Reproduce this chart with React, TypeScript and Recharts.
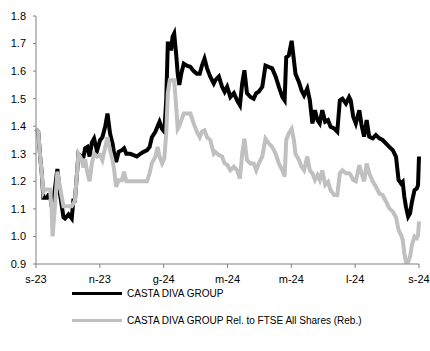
import { LineChart, Line, XAxis, YAxis } from "recharts";

// months since 1 Sep 2023
const months = [
  0, 0.07, 0.13, 0.18, 0.23, 0.28, 0.34, 0.39, 0.44, 0.49,
  0.52, 0.6, 0.67, 0.75, 0.86, 0.91, 1.02, 1.12, 1.17, 1.22,
  1.33, 1.38, 1.43, 1.49, 1.54, 1.61, 1.68, 1.75, 1.82, 1.91,
  2.01, 2.08, 2.17, 2.24, 2.32, 2.4, 2.45, 2.51, 2.59, 2.69,
  2.76, 2.83, 2.95, 3.06, 3.16, 3.27, 3.37, 3.48, 3.56, 3.63,
  3.74, 3.81, 3.87, 3.95, 4.02, 4.08, 4.13, 4.19, 4.23, 4.28,
  4.33, 4.4, 4.44, 4.49, 4.55, 4.63, 4.73, 4.84, 4.94, 5.04,
  5.13, 5.2, 5.28, 5.36, 5.46, 5.57, 5.62, 5.73, 5.83, 5.91,
  5.99, 6.09, 6.2, 6.3, 6.39, 6.46, 6.53, 6.61, 6.72, 6.82,
  6.9, 6.98, 7.09, 7.19, 7.3, 7.4, 7.51, 7.61, 7.72, 7.79,
  7.84, 7.92, 8.01, 8.08, 8.13, 8.24, 8.32, 8.4, 8.5, 8.58,
  8.66, 8.74, 8.82, 8.89, 8.97, 9.06, 9.15, 9.23, 9.34, 9.44,
  9.52, 9.6, 9.71, 9.81, 9.86, 9.94, 10.02, 10.13, 10.2, 10.28,
  10.36, 10.44, 10.55, 10.65, 10.76, 10.86, 10.97, 11.07, 11.18, 11.28,
  11.36, 11.44, 11.49, 11.54, 11.59, 11.66, 11.72, 11.78, 11.86, 11.93,
  11.97, 12.0,
];

const castaDiva = [
  1.39, 1.38, 1.29, 1.23, 1.14, 1.14, 1.14, 1.15, 1.15, 1.11,
  1.10, 1.18, 1.245, 1.156, 1.07, 1.065, 1.08, 1.065, 1.13, 1.13,
  1.30, 1.295, 1.29, 1.29, 1.32, 1.325, 1.29, 1.34, 1.355, 1.31,
  1.35, 1.36, 1.40, 1.446, 1.374, 1.337, 1.30, 1.27, 1.307, 1.313,
  1.32, 1.30, 1.30, 1.295, 1.29, 1.30, 1.307, 1.313, 1.325, 1.36,
  1.38, 1.40, 1.416, 1.39, 1.38, 1.494, 1.70, 1.70, 1.675, 1.724,
  1.736, 1.65, 1.59, 1.55, 1.59, 1.627, 1.62, 1.615, 1.60, 1.59,
  1.59, 1.62, 1.645, 1.61, 1.58, 1.555, 1.567, 1.58, 1.543, 1.525,
  1.543, 1.506, 1.52, 1.494, 1.476, 1.555, 1.603, 1.52, 1.506, 1.50,
  1.52, 1.525, 1.543, 1.62, 1.615, 1.61, 1.58, 1.543, 1.506, 1.494,
  1.65, 1.657, 1.71, 1.64, 1.59, 1.56, 1.53, 1.512, 1.537, 1.494,
  1.41, 1.458, 1.422, 1.41, 1.458, 1.416, 1.422, 1.398, 1.392, 1.38,
  1.494, 1.50, 1.482, 1.506, 1.494, 1.434, 1.41, 1.458, 1.404, 1.362,
  1.422, 1.362, 1.356, 1.368, 1.356, 1.35, 1.337, 1.325, 1.313, 1.289,
  1.205, 1.192, 1.198, 1.144, 1.108, 1.072, 1.084, 1.126, 1.168, 1.174,
  1.186, 1.29,
];

const relFtse = [
  1.39, 1.38, 1.29, 1.23, 1.16, 1.17, 1.17, 1.17, 1.17, 1.10,
  1.00, 1.12, 1.235, 1.18, 1.11, 1.11, 1.11, 1.11, 1.12, 1.13,
  1.30, 1.29, 1.277, 1.25, 1.28, 1.23, 1.20, 1.265, 1.30, 1.29,
  1.295, 1.277, 1.325, 1.36, 1.313, 1.277, 1.24, 1.18, 1.204, 1.204,
  1.235, 1.20, 1.20, 1.20, 1.20, 1.20, 1.20, 1.20, 1.23, 1.265,
  1.29, 1.325, 1.29, 1.265, 1.283, 1.374, 1.52, 1.567, 1.567, 1.567,
  1.567, 1.458, 1.39, 1.40, 1.42, 1.446, 1.446, 1.446, 1.41, 1.38,
  1.36, 1.38, 1.385, 1.36, 1.35, 1.30, 1.307, 1.295, 1.29, 1.265,
  1.26, 1.24, 1.253, 1.24, 1.21, 1.30, 1.355, 1.277, 1.265, 1.265,
  1.24, 1.265, 1.29, 1.355, 1.337, 1.325, 1.30, 1.265, 1.24, 1.217,
  1.35, 1.374, 1.39, 1.35, 1.30, 1.277, 1.253, 1.24, 1.29, 1.24,
  1.229, 1.205, 1.223, 1.205, 1.24, 1.187, 1.198, 1.168, 1.15, 1.15,
  1.229, 1.24, 1.229, 1.229, 1.223, 1.205, 1.20, 1.259, 1.229, 1.20,
  1.265, 1.229, 1.20, 1.18, 1.156, 1.15, 1.126, 1.102, 1.09, 1.07,
  1.023, 1.005, 0.987, 0.939, 0.908, 0.908, 0.927, 0.969, 1.0, 0.994,
  1.005, 1.055,
];

const tickMonths = [0, 2, 4, 6, 8, 10, 12];
const tickLabels = ["s-23", "n-23", "g-24", "m-24", "m-24", "l-24", "s-24"];
const yTicks = [0.9, 1.0, 1.1, 1.2, 1.3, 1.4, 1.5, 1.6, 1.7, 1.8];

const SERIES_BLACK = "CASTA DIVA GROUP";
const SERIES_GREY = "CASTA DIVA GROUP Rel. to FTSE All Shares (Reb.)";

const data = months.map((m, i) => ({
  t: m,
  black: castaDiva[i],
  grey: relFtse[i],
}));

const FONT = "'Liberation Sans', Arial, sans-serif";
const AXIS = "#808080";

export default function App() {
  return (
    <div
      style={{
        position: "absolute",
        left: 0,
        top: 0,
        width: 430,
        height: 351,
        background: "#fff",
        fontFamily: FONT,
      }}
    >
      <LineChart
        width={430}
        height={351}
        data={data}
        margin={{ top: 16, right: 11, left: 0, bottom: 57 }}
      >
        <XAxis
          type="number"
          dataKey="t"
          domain={[0, 12]}
          ticks={tickMonths}
          tickFormatter={(v: number) => tickLabels[tickMonths.indexOf(v)] ?? ""}
          stroke={AXIS}
          tickSize={4}
          tickMargin={7}
          height={30}
          interval={0}
          tick={{ fontSize: 11, fill: "#000", fontFamily: FONT }}
        />
        <YAxis
          type="number"
          domain={[0.9, 1.8]}
          ticks={yTicks}
          tickFormatter={(v: number) => v.toFixed(1)}
          stroke={AXIS}
          tickSize={3}
          tickMargin={7}
          width={36}
          interval={0}
          tick={{ fontSize: 11, fill: "#000", fontFamily: FONT }}
        />
        <Line
          type="linear"
          dataKey="black"
          name={SERIES_BLACK}
          stroke="#000"
          strokeWidth={4}
          dot={false}
          isAnimationActive={false}
        />
        <Line
          type="linear"
          dataKey="grey"
          name={SERIES_GREY}
          stroke="#c0c0c0"
          strokeWidth={4}
          dot={false}
          isAnimationActive={false}
        />
      </LineChart>

      {/* Legend */}
      <div style={{ position: "absolute", left: 72, top: 286, fontSize: 10, color: "#000" }}>
        {[
          { name: SERIES_BLACK, color: "#000" },
          { name: SERIES_GREY, color: "#c0c0c0" },
        ].map((s, i) => (
          <div
            key={s.name}
            style={{
              display: "flex",
              alignItems: "center",
              height: 14,
              marginTop: i === 0 ? 0 : 13,
            }}
          >
            <div style={{ width: 50, height: 3, background: s.color, marginRight: 5 }} />
            <span>{s.name}</span>
          </div>
        ))}
      </div>
    </div>
  );
}
